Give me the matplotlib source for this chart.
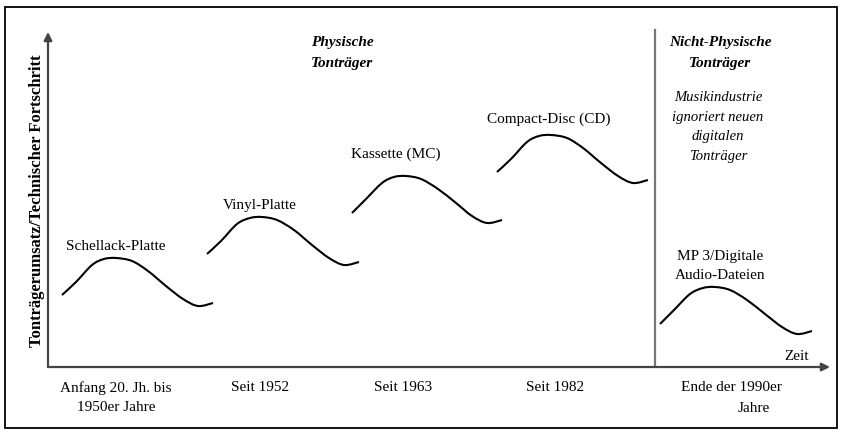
import matplotlib

matplotlib.use("Agg")
import matplotlib.pyplot as plt
from matplotlib.patches import PathPatch, Rectangle
from matplotlib.path import Path

plt.rcParams["font.family"] = ["Liberation Serif", "DejaVu Serif"]

# Lebenszyklus-Kurven der Tonträger (x: Zeit, y: Umsatz, willkürliche Einheiten)
schellack_x = [14, 28, 44, 56, 68, 84, 100, 118, 135, 150, 165]
schellack_y = [72, 85, 102, 108, 109, 106, 96, 81, 68, 61, 64]
vinyl_x = [159, 173, 189, 202, 214, 229, 246, 264, 281, 296, 311]
vinyl_y = [113, 126, 143, 149, 150, 147, 137, 122, 109, 102, 105]
kassette_x = [304, 318, 334, 346, 358, 373, 390, 408, 424, 439, 454]
kassette_y = [154, 168, 184, 190, 191, 188, 178, 164, 151, 144, 147]
cd_x = [449, 463, 479, 491, 503, 519, 535, 553, 570, 585, 600]
cd_y = [195, 208, 225, 231, 232, 229, 219, 204, 191, 184, 187]
mp3_x = [612, 626, 642, 655, 667, 682, 699, 717, 734, 749, 764]
mp3_y = [43, 57, 73, 79, 80, 77, 67, 53, 40, 33, 36]

curves = [
    (schellack_x, schellack_y),
    (vinyl_x, vinyl_y),
    (kassette_x, kassette_y),
    (cd_x, cd_y),
    (mp3_x, mp3_y),
]
curve_labels = ["Schellack-Platte", "Vinyl-Platte", "Kassette (MC)",
                "Compact-Disc (CD)", "MP 3/Digitale\nAudio-Dateien"]
label_pos = [(68, 120), (212, 162), (348, 213), (501, 248), (672, 101)]

era_labels = ["Anfang 20. Jh. bis\n1950er Jahre", "Seit 1952", "Seit 1963",
              "Seit 1982", "Ende der 1990er"]
era_x = [68, 212, 355, 507, 683]

split_x = 607
X_MAX, Y_MAX = 782, 335


def smooth_path(xs, ys):
    """Catmull-Rom through the points, drawn as cubic Bezier segments."""
    pts = list(zip(xs, ys))
    verts = [pts[0]]
    codes = [Path.MOVETO]
    for i in range(len(pts) - 1):
        p0 = pts[max(i - 1, 0)]
        p1, p2 = pts[i], pts[i + 1]
        p3 = pts[min(i + 2, len(pts) - 1)]
        c1 = (p1[0] + (p2[0] - p0[0]) / 6, p1[1] + (p2[1] - p0[1]) / 6)
        c2 = (p2[0] - (p3[0] - p1[0]) / 6, p2[1] - (p3[1] - p1[1]) / 6)
        verts += [c1, c2, p2]
        codes += [Path.CURVE4] * 3
    return Path(verts, codes)


fig = plt.figure(figsize=(8.42, 4.32), dpi=100)
ax = fig.add_axes([48 / 842, 65 / 432, 782 / 842, 335 / 432])
ax.set_xlim(0, X_MAX)
ax.set_ylim(0, Y_MAX)
ax.axis("off")

# outer frame
fig.add_artist(Rectangle((5 / 842, 4 / 432), 832 / 842, 421 / 432,
                         transform=fig.transFigure, fill=False,
                         edgecolor="black", linewidth=1.3))

# axes arrows
arrow = dict(arrowstyle="-|>", color="#444", linewidth=1.6,
             mutation_scale=12, shrinkA=0, shrinkB=0)
ax.annotate("", xy=(X_MAX, 0), xytext=(0, 0), arrowprops=arrow,
            annotation_clip=False)
ax.annotate("", xy=(0, Y_MAX), xytext=(0, 0), arrowprops=arrow,
            annotation_clip=False)

# separator physical / non-physical
ax.plot([split_x, split_x], [0, 337], color="#777", linewidth=1.6,
        clip_on=False)

for (xs, ys), lab, (lx, ly) in zip(curves, curve_labels, label_pos):
    ax.add_patch(PathPatch(smooth_path(xs, ys), facecolor="none",
                           edgecolor="black", linewidth=1.5,
                           capstyle="butt"))
    ax.text(lx, ly, lab, ha="center", va="center", fontsize=11,
            linespacing=1.65)

for lab, x in zip(era_labels, era_x):
    ax.text(x, -14, lab, ha="center", va="top", fontsize=11,
            linespacing=1.65, clip_on=False)
ax.text(706, -35, "Jahre", ha="center", va="top", fontsize=11)

ax.text(749, 10, "Zeit", ha="center", va="center", fontsize=11)

ax.text(294, 314, "Physische\nTonträger", ha="center", va="center",
        fontsize=11, fontweight="bold", style="italic", linespacing=1.75)
ax.text(672, 314, "Nicht-Physische\nTonträger", ha="center", va="center",
        fontsize=11, fontweight="bold", style="italic", linespacing=1.75)
ax.text(670, 240, "Musikindustrie\nignoriert neuen\ndigitalen\nTonträger",
        ha="center", va="center", fontsize=10.5, style="italic",
        linespacing=1.65)

ax.text(-11, 166, "Tonträgerumsatz/Technischer Fortschritt", rotation=90,
        ha="center", va="center", fontsize=12, fontweight="bold")

fig.savefig("out.png", dpi=100, facecolor="white")
